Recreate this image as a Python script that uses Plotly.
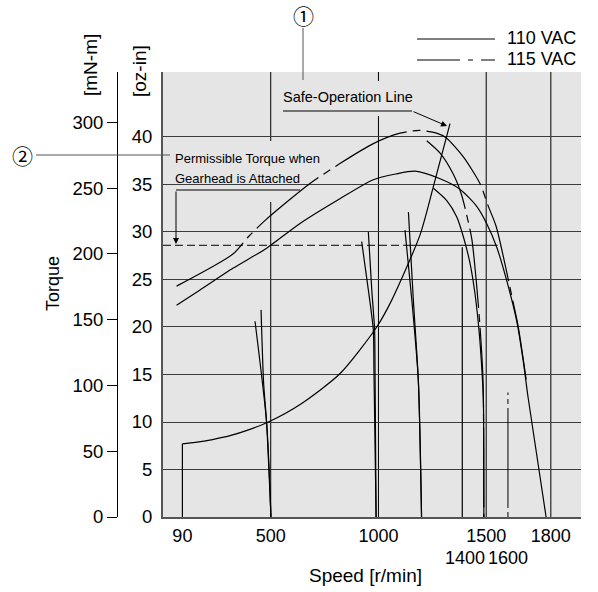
import plotly.graph_objects as go

# ---------------- data: speed [r/min], torque [oz-in] ----------------
safe_rpm = [90, 90, 150, 230, 311, 400, 489, 640, 822, 992, 1061, 1193, 1255, 1332]
safe_oz = [0, 7.7, 7.85, 8.15, 8.56, 9.2, 10.0, 11.9, 15.1, 20.0, 22.8, 29.7, 34.8, 41.4]

v110_rpm = [63, 172, 326, 481, 636, 821, 976, 1080, 1170, 1286, 1378, 1456, 1502, 1549, 1595, 1642, 1672, 1695, 1778]
v110_oz = [22.3, 23.9, 26.2, 28.3, 30.9, 33.5, 35.5, 36.1, 36.4, 35.6, 34.5, 32.7, 30.9, 28.4, 24.9, 20.6, 16.4, 12.5, 0]

v115_rpm = [63, 326, 396, 478, 682, 821, 976, 1100, 1190, 1270, 1315, 1394, 1471, 1510, 1546, 1626, 1649, 1688]
v115_oz = [24.3, 27.7, 29.5, 31.3, 35.1, 37.2, 39.3, 40.4, 40.7, 40.4, 39.9, 37.9, 35.1, 32.7, 30.6, 22.5, 20.0, 14.1]

s1500a_rpm = [1255, 1317, 1363, 1394, 1425, 1448, 1468, 1481, 1487, 1489]
s1500a_oz = [34.6, 33.3, 31.6, 29.5, 26.7, 23.5, 19.3, 15.1, 12.3, 0]
s1500b_rpm = [1224, 1286, 1347, 1386, 1402, 1433, 1456, 1471, 1484, 1487, 1489]
s1500b_oz = [39.6, 38.3, 36.1, 33.9, 32.5, 29.3, 24.3, 20.1, 15.2, 12.3, 0]

s1200a_rpm = [1123, 1155, 1185, 1200]
s1200a_oz = [30.2, 22.8, 14.4, 0]
s1200b_rpm = [1139, 1162, 1185, 1200]
s1200b_oz = [32.1, 22.8, 14.4, 0]

s1000a_rpm = [922, 953, 976, 979, 989]
s1000a_oz = [29.0, 23.9, 19.7, 15.5, 0]
s1000b_rpm = [953, 969, 982, 984, 989]
s1000b_oz = [30.0, 23.9, 19.7, 15.5, 0]

s500a_rpm = [427, 481, 501]
s500a_oz = [20.6, 9.9, 0]
s500b_rpm = [455, 467, 481, 501]
s500b_oz = [21.8, 14.1, 9.9, 0]

s1400_rpm = [1389, 1389]
s1400_oz = [0, 28.4]
s1600_rpm = [1601, 1601]
s1600_oz = [0, 13.1]

perm_oz = 28.6
perm_dash_rpm = [0, 1117]
perm_solid_rpm = [1117, 1553]

x_ticks = [90, 500, 1000, 1500, 1800]
x_ticks_row2 = [1400, 1600]
x_grid = [500, 1000, 1500, 1800]
oz_ticks = [0, 5, 10, 15, 20, 25, 30, 35, 40]
mnm_ticks = [0, 50, 100, 150, 200, 250, 300]

# ---------------- styling / layout helpers ----------------
W, H = 598, 592
L, R, T, B = 40, 17, 72, 75
PW, PH = W - L - R, H - T - B
BG = "#e5e5e5"
FONT = "Liberation Sans, Arial, Helvetica, sans-serif"
CJK = "Noto Sans CJK JP, DejaVu Sans, sans-serif"
DASH115 = "80px,6px,8px,6px"


def px(x):
    return (x - L) / PW


def py(y):
    return (H - B - y) / PH


fig = go.Figure()


def add(x, y, dash="solid", width=1.2, shape="spline"):
    fig.add_trace(go.Scatter(
        x=x, y=y, mode="lines",
        line=dict(color="black", width=width, dash=dash, shape=shape, smoothing=0.7),
        hoverinfo="skip", showlegend=False))


add(safe_rpm[:2], safe_oz[:2], shape="linear")
add(safe_rpm[1:], safe_oz[1:])
add(v110_rpm, v110_oz)
add(v115_rpm, v115_oz, dash=DASH115)
add(s1500a_rpm, s1500a_oz)
add(s1500b_rpm, s1500b_oz, dash=DASH115)
add(s1200a_rpm, s1200a_oz)
add(s1200b_rpm, s1200b_oz)
add(s1000a_rpm, s1000a_oz)
add(s1000b_rpm, s1000b_oz)
add(s500a_rpm, s500a_oz)
add(s500b_rpm, s500b_oz)
add(s1400_rpm, s1400_oz, shape="linear")
add(s1600_rpm, s1600_oz, dash="5px,4px,100px,4px", shape="linear", width=1)
add(perm_dash_rpm, [perm_oz, perm_oz], dash="8px,4px", shape="linear", width=1)
add(perm_solid_rpm, [perm_oz, perm_oz], shape="linear", width=1)
# invisible trace to carry the mN-m axis
fig.add_trace(go.Scatter(x=[0], y=[0], yaxis="y2", mode="markers",
                         marker=dict(opacity=0), hoverinfo="skip", showlegend=False))

shapes = []
for g in x_grid:
    shapes.append(dict(type="line", xref="x", yref="paper", x0=g, x1=g, y0=0, y1=1,
                       line=dict(color="black", width=1), layer="between"))
# background patches behind the labels (hide grid lines)
shapes.append(dict(type="rect", xref="paper", yref="paper", x0=px(164), x1=px(308),
                   y0=py(202), y1=py(141), fillcolor=BG, line=dict(width=0), layer="between"))
shapes.append(dict(type="rect", xref="paper", yref="paper", x0=px(278), x1=px(425),
                   y0=py(116), y1=py(81), fillcolor=BG, line=dict(width=0), layer="between"))


def pline(x0, y0, x1, y1, dash="solid", color="black", width=1):
    shapes.append(dict(type="line", xref="paper", yref="paper", x0=px(x0), x1=px(x1),
                       y0=py(y0), y1=py(y1), line=dict(color=color, width=width, dash=dash)))


pline(283, 111, 412, 111)            # Safe-Operation underline
pline(176, 190, 300, 190)            # Permissible underline
pline(303, 28, 303, 80, color="#555")   # (1) leader
pline(36, 155, 170, 155, color="#555")  # (2) leader
pline(417, 39, 495, 39)              # legend 110 VAC
pline(417, 60, 495, 60, dash="43px,8px,5px,8px")  # legend 115 VAC

ann = []


def text(x, y, s, size, xanchor="center", angle=0, family=FONT, align="center"):
    ann.append(dict(x=px(x), y=py(y), xref="paper", yref="paper", text=s, showarrow=False,
                    xanchor=xanchor, yanchor="middle", textangle=angle, align=align,
                    borderpad=0, font=dict(family=family, size=size, color="black")))


text(90, 65, "[mN-m]", 19, angle=-90)
text(140, 71, "[oz-in]", 19, angle=-90)
text(53, 284, "Torque", 18, angle=-90)
text(365, 575, "Speed [r/min]", 19)
text(282, 97, "Safe-Operation Line", 14.5, xanchor="left")
text(174, 158, "Permissible Torque when", 13, xanchor="left")
text(174, 178, "Gearhead is Attached", 13, xanchor="left")
text(506, 38, "110 VAC", 18, xanchor="left")
text(506, 59, "115 VAC", 18, xanchor="left")
text(303, 15, "\u2460", 21, family=CJK)
text(22, 155, "\u2461", 21, family=CJK)

# second row of speed tick labels
for v in x_ticks_row2:
    ann.append(dict(x=v, y=py(558), xref="x", yref="paper", text=str(v), showarrow=False,
                    xanchor="center", yanchor="middle", borderpad=0,
                    font=dict(family=FONT, size=18, color="black")))


def arrow(hx, hy, tx, ty):
    ann.append(dict(x=px(hx), y=py(hy), xref="paper", yref="paper",
                    ax=tx - hx, ay=ty - hy, axref="pixel", ayref="pixel",
                    text="", showarrow=True, arrowhead=2, arrowsize=1.2,
                    arrowwidth=1, arrowcolor="black"))


arrow(447, 126, 412, 111)
arrow(176, 244, 176, 190)

fig.update_layout(
    width=W, height=H, margin=dict(l=L, r=R, t=T, b=B),
    paper_bgcolor="white", plot_bgcolor=BG,
    font=dict(family=FONT, color="black"),
    shapes=shapes, annotations=ann, showlegend=False,
    xaxis=dict(domain=[px(163), 1], range=[0, 1940], showgrid=False, zeroline=False,
               showline=True, linecolor="#555", linewidth=2, tickangle=0,
               tickvals=x_ticks, ticktext=[str(v) for v in x_ticks], ticks="outside", ticklen=1,
               tickcolor="rgba(0,0,0,0)", tickfont=dict(size=18)),
    yaxis=dict(range=[0, 46.84], tickvals=oz_ticks, showgrid=True, gridcolor="#3c3c3c",
               gridwidth=1, zeroline=False, showline=True, linecolor="#555", linewidth=2,
               ticks="outside", ticklen=5, tickcolor="rgba(0,0,0,0)", tickfont=dict(size=18.5)),
    yaxis2=dict(overlaying="y", anchor="free", position=px(117), side="left",
                range=[0, 338.2], tickvals=mnm_ticks, showgrid=False, zeroline=False,
                showline=True, linecolor="black", linewidth=1, ticks="outside", ticklen=10,
                tickcolor="black", tickwidth=1, tickfont=dict(size=18.5)),
)

fig.write_html("out.html")
